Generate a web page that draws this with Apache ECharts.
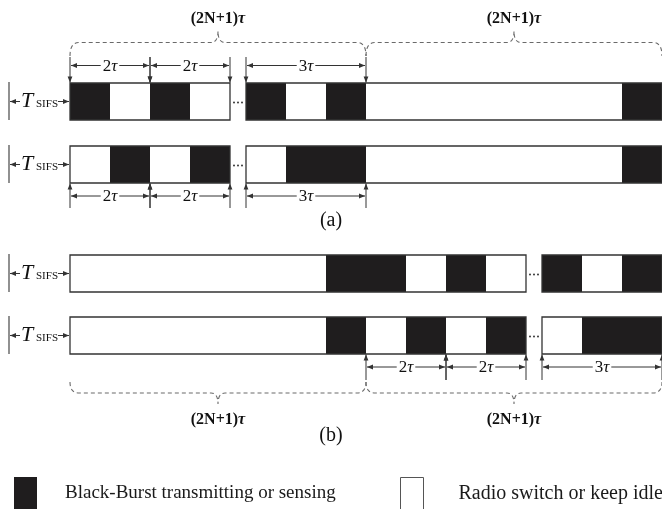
<!DOCTYPE html>
<html><head><meta charset="utf-8">
<script src="https://cdn.jsdelivr.net/npm/echarts@6/dist/echarts.min.js"></script>
<style>html,body{margin:0;padding:0;background:#fff}#c{width:662px;height:509px}</style>
</head><body><div id="c"></div><script>
// ---- data (time in units of tau, measured from the end of T_SIFS) ----
const tSifs = 1.525;                       // length of T_SIFS in tau units
// segments: [start, end, state]  state 1 = black burst, 0 = idle
const segA1 = [[0,1,1],[1,2,0],[2,3,1],[3,4,0],[4.4,5.4,1],[5.4,6.4,0],[6.4,7.4,1],[7.4,13.8,0],[13.8,14.8,1]];
const segA2 = [[0,1,0],[1,2,1],[2,3,0],[3,4,1],[4.4,5.4,0],[5.4,7.4,1],[7.4,13.8,0],[13.8,14.8,1]];
const segB1 = [[0,6.4,0],[6.4,8.4,1],[8.4,9.4,0],[9.4,10.4,1],[10.4,11.4,0],[11.8,12.8,1],[12.8,13.8,0],[13.8,14.8,1]];
const segB2 = [[0,6.4,0],[6.4,7.4,1],[7.4,8.4,0],[8.4,9.4,1],[9.4,10.4,0],[10.4,11.4,1],[11.8,12.8,0],[12.8,14.8,1]];
const piecesA = [[0,4],[4.4,14.8]];
const piecesB = [[0,11.4],[11.8,14.8]];
// dimension arrows: [start, end, multiple of tau]
const dimsA = [[0,2,2],[2,4,2],[4.4,7.4,3]];
const dimsB = [[7.4,9.4,2],[9.4,11.4,2],[11.8,14.8,3]];
// braces: [start, end]
const periodsA = [[0,7.4],[7.4,14.8]];
const periodsB = [[0,7.4],[7.4,14.8]];
const periodLabel = '(2N+1)';
const panelLabels = ['(a)','(b)'];
const legendNames = ['Black-Burst transmitting or sensing','Radio switch or keep idle'];

// ---- layout / style ----
const FONT = '"Liberation Serif","DejaVu Serif",serif';
const INK = '#1f1d1e', LINE = '#333', DASH = '#6a6a6a', TXT = '#111';
const rowBox = [[83,120],[146,183],[255,292],[317,354]];
const dimSide = [
  {t0:57, t1:82.5, y:65.5, head:'d'},
  {t0:183.5, t1:208, y:196, head:'u'},
  {t0:354.5, t1:380, y:367, head:'u'}
];
const braceSide = [
  {end:56, mid:42.5, tip:31, label:19},
  {end:382, mid:393, tip:404, label:420}
];

function tri(x,y,dir){
  const L=6,W=2.4; let p;
  if(dir==='d') p=[[x,y],[x-W,y-L],[x+W,y-L]];
  else if(dir==='u') p=[[x,y],[x-W,y+L],[x+W,y+L]];
  else if(dir==='l') p=[[x,y],[x+L,y-W],[x+L,y+W]];
  else p=[[x,y],[x-L,y-W],[x-L,y+W]];
  return {type:'polygon', shape:{points:p}, style:{fill:LINE}};
}
function ln(x1,y1,x2,y2,w,c){ return {type:'line', shape:{x1,y1,x2,y2}, style:{stroke:c||LINE, lineWidth:w||1}}; }

const rowsSeg = [segA1, segA2, segB1, segB2];
const blackData = [], whiteData = [];
rowsSeg.forEach((segs,r)=>segs.forEach(s=>(s[2]?blackData:whiteData).push([s[0],s[1],r])));
const pieceData = [];
[piecesA,piecesA,piecesB,piecesB].forEach((ps,r)=>ps.forEach((p,i)=>pieceData.push([p[0],p[1],r, i<ps.length-1?ps[i+1][0]:-99])));
const dimData = [];
dimsA.forEach(d=>{dimData.push([d[0],d[1],d[2],0]); dimData.push([d[0],d[1],d[2],1]);});
dimsB.forEach(d=>dimData.push([d[0],d[1],d[2],2]));
const braceData = [];
periodsA.forEach(p=>braceData.push([p[0],p[1],0]));
periodsB.forEach(p=>braceData.push([p[0],p[1],1]));
const sifsData = [[0],[1],[2],[3]];

function segRender(color){
  return function(params, api){
    const r = api.value(2);
    const p0 = api.coord([api.value(0), rowBox[r][0]]);
    const p1 = api.coord([api.value(1), rowBox[r][1]]);
    return {type:'rect', shape:{x:p0[0], y:p0[1], width:p1[0]-p0[0], height:p1[1]-p0[1]},
      style:{fill:color}};
  };
}

const option = {
  animation:false,
  grid:{left:0,right:0,top:0,bottom:0},
  xAxis:{type:'value', min:-1.75, max:14.8, show:false},
  yAxis:{type:'value', min:0, max:509, inverse:true, show:false},
  legend:[
    {left:9, top:472, itemWidth:23, itemHeight:32, selectedMode:false, icon:'rect',
     data:[{name:legendNames[0], icon:'rect', itemStyle:{color:INK, borderWidth:0}}],
     textStyle:{fontFamily:FONT, fontSize:19, color:'#1a1a1a', padding:[0,0,0,23]}},
    {left:395, top:472, itemWidth:23, itemHeight:32, selectedMode:false, icon:'rect',
     data:[{name:legendNames[1], icon:'rect', itemStyle:{color:'#fff', borderColor:'#555', borderWidth:1}}],
     textStyle:{fontFamily:FONT, fontSize:20, color:'#1a1a1a', padding:[0,0,0,30]}}
  ],
  series:[
    {type:'custom', name:legendNames[1], renderItem:segRender('#fff'), data:whiteData, encode:{x:[0,1],y:2},
     itemStyle:{color:'#fff', borderColor:'#555', borderWidth:1}, silent:true},
    {type:'custom', name:legendNames[0], renderItem:segRender(INK), data:blackData, encode:{x:[0,1],y:2},
     itemStyle:{color:INK}, silent:true},
    {type:'custom', renderItem:function(params, api){
        const r = api.value(2);
        const p0 = api.coord([api.value(0), rowBox[r][0]]);
        const p1 = api.coord([api.value(1), rowBox[r][1]]);
        const ch = [{type:'rect', shape:{x:p0[0], y:p0[1], width:p1[0]-p0[0], height:p1[1]-p0[1]},
          style:{fill:'none', stroke:LINE, lineWidth:1.3}}];
        const nx = api.value(3);
        if(nx > -50){
          const c = api.coord([(api.value(1)+nx)/2, (rowBox[r][0]+rowBox[r][1])/2]);
          [-4,0,4].forEach(dx=>ch.push({type:'circle', shape:{cx:c[0]+dx, cy:c[1]+1, r:0.9}, style:{fill:'#222'}}));
        }
        return {type:'group', children:ch};
      }, data:pieceData, encode:{x:[0,1],y:2}, silent:true},
    {type:'custom', renderItem:function(params, api){
        const sd = dimSide[api.value(3)];
        const x0 = api.coord([api.value(0),0])[0], x1 = api.coord([api.value(1),0])[0];
        const ch = [];
        [x0,x1].forEach(x=>{
          ch.push(ln(x, sd.t0, x, sd.t1, 1));
          ch.push(tri(x, sd.head==='d'?sd.t1:sd.t0, sd.head));
        });
        ch.push(ln(x0+1, sd.y, x1-1, sd.y, 1));
        ch.push(tri(x0+1, sd.y, 'l'));
        ch.push(tri(x1-1, sd.y, 'r'));
        ch.push({type:'text', style:{x:(x0+x1)/2, y:sd.y+1, align:'center', verticalAlign:'middle',
          text:'{n|'+api.value(2)+'}{t|τ}', backgroundColor:'#fff', padding:[0,2],
          rich:{n:{fontFamily:FONT, fontSize:17, fill:TXT}, t:{fontFamily:FONT, fontSize:17, fontStyle:'italic', fill:TXT}}}});
        return {type:'group', children:ch};
      }, data:dimData, encode:{x:[0,1]}, silent:true, z:3},
    {type:'custom', renderItem:function(params, api){
        const b = braceSide[api.value(2)];
        const x0 = api.coord([api.value(0),0])[0], x1 = api.coord([api.value(1),0])[0];
        const xm = (x0+x1)/2, R = 9, r2 = 7;
        const d = 'M'+x0+' '+b.end+' Q'+x0+' '+b.mid+' '+(x0+R)+' '+b.mid+' L'+(xm-r2)+' '+b.mid+
          ' Q'+xm+' '+b.mid+' '+xm+' '+b.tip+' Q'+xm+' '+b.mid+' '+(xm+r2)+' '+b.mid+
          ' L'+(x1-R)+' '+b.mid+' Q'+x1+' '+b.mid+' '+x1+' '+b.end;
        return {type:'group', children:[
          {type:'path', shape:{pathData:d}, style:{fill:'none', stroke:DASH, lineWidth:1.1, lineDash:[4,3]}},
          {type:'text', style:{x:xm, y:b.label, align:'center', verticalAlign:'middle',
            text:'{p|'+periodLabel+'}{t|τ}',
            rich:{p:{fontFamily:FONT, fontSize:16, fontWeight:'bold', fill:TXT},
                  t:{fontFamily:FONT, fontSize:16, fontWeight:'bold', fontStyle:'italic', fill:TXT}}}}
        ]};
      }, data:braceData, encode:{x:[0,1]}, silent:true},
    {type:'custom', renderItem:function(params, api){
        const r = api.value(0);
        const top = rowBox[r][0], bot = rowBox[r][1], cy = (top+bot)/2;
        const x0 = api.coord([-tSifs, cy])[0], x1 = api.coord([0, cy])[0];
        return {type:'group', children:[
          ln(x0, top-1, x0, bot, 1.3, '#555'),
          ln(x0+1, cy, x0+11, cy, 1), tri(x0+1, cy, 'l'),
          ln(x1-12, cy, x1-1, cy, 1), tri(x1-1, cy, 'r'),
          {type:'text', style:{x:x0+12, y:cy, align:'left', verticalAlign:'middle', text:'T',
            fontFamily:FONT, fontSize:22, fontStyle:'italic', fill:TXT}},
          {type:'text', style:{x:x0+27, y:cy+2.5, align:'left', verticalAlign:'middle', text:'SIFS',
            fontFamily:FONT, fontSize:11, fill:TXT}}
        ]};
      }, data:sifsData, encode:{x:0}, silent:true}
  ],
  graphic:[
    {type:'text', left:'center', top:211, style:{text:panelLabels[0], fontFamily:FONT, fontSize:20, fill:TXT}},
    {type:'text', left:'center', top:426, style:{text:panelLabels[1], fontFamily:FONT, fontSize:20, fill:TXT}}
  ]
};
const chart = echarts.init(document.getElementById('c'));
chart.setOption(option);
</script></body></html>
